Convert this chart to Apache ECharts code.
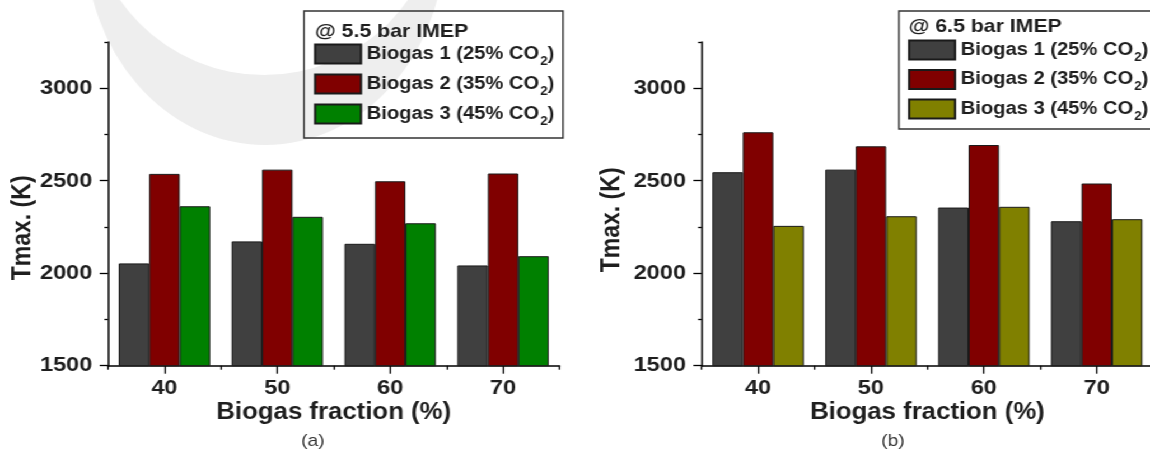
<!DOCTYPE html>
<html>
<head>
<meta charset="utf-8">
<script src="https://cdn.jsdelivr.net/npm/echarts@6/dist/echarts.min.js"></script>
<style>
  html, body { margin: 0; padding: 0; background: #ffffff; overflow: hidden; }
  #stage { position: absolute; left: 0; top: 0; width: 1027px; height: 451px;
           transform: scaleX(1.11977); transform-origin: 0 0; }
  #left  { position: absolute; left: 0; top: 0; width: 518px; height: 451px; }
  #right { position: absolute; left: 518px; top: 0; width: 509px; height: 451px; }
</style>
</head>
<body>
<div id="stage"><div id="left"></div><div id="right"></div></div>
<script>
// Biogas fraction (%) on the x axis
const categories = ['40', '50', '60', '70'];
const seriesNames = ['Biogas 1 (25% CO2)', 'Biogas 2 (35% CO2)', 'Biogas 3 (45% CO2)'];

// Peak in-cylinder temperature Tmax (K) at 5.5 bar IMEP
const biogas1At55 = [2053, 2172, 2159, 2042];
const biogas2At55 = [2537, 2560, 2497, 2539];
const biogas3At55 = [2362, 2305, 2270, 2092];

// Peak in-cylinder temperature Tmax (K) at 6.5 bar IMEP
const biogas1At65 = [2546, 2560, 2355, 2281];
const biogas2At65 = [2762, 2686, 2693, 2485];
const biogas3At65 = [2256, 2308, 2359, 2292];

// Value axis
const yMin = 1500;
const yMax = 3250;
const yMajorTicks = [1500, 2000, 2500, 3000];
const yMinorTicks = [1750, 2250, 2750, 3250];

const FONT = '"Liberation Sans", Arial, sans-serif';
const INK = '#1e1e1e';

function buildOption(cfg) {
  const series = seriesNames.map((name, i) => ({
    type: 'bar',
    name: name,
    xAxisIndex: 0,
    yAxisIndex: 0,
    data: cfg.values[i],
    barGap: '0%',
    barCategoryGap: '19%',
    itemStyle: { color: cfg.colors[i], borderColor: '#1a1a1a', borderWidth: 1 },
    emphasis: { disabled: true }
  }));

  const graphic = [];
  if (cfg.watermark) {
    graphic.push(
      { type: 'circle', silent: true, z: -20, x: 236.7, y: -60, scaleY: 1.2757,
        shape: { cx: 0, cy: 0, r: 160.7 }, style: { fill: '#eeeeee' } },
      { type: 'circle', silent: true, z: -19, x: 235.7, y: -100, scaleY: 1.1168,
        shape: { cx: 0, cy: 0, r: 156.7 }, style: { fill: '#ffffff' } }
    );
  }
  graphic.push(
    { type: 'rect', silent: true, z: 10,
      shape: { x: cfg.box[0], y: cfg.box[1], width: cfg.box[2], height: cfg.box[3] },
      style: { fill: 'none', stroke: '#333333', lineWidth: 1.4 } },
    { type: 'text', silent: true, z: 10, x: cfg.caption[1], y: 441,
      style: { text: cfg.caption[0], fill: '#333333', fontSize: 17, fontFamily: FONT,
               align: 'center', verticalAlign: 'middle' } }
  );

  return {
    animation: false,
    backgroundColor: 'transparent',
    title: {
      text: cfg.condition,
      left: cfg.titlePos[0],
      top: cfg.titlePos[1],
      padding: 0,
      textStyle: { fontFamily: FONT, fontSize: 19, fontWeight: 'bold', color: INK, lineHeight: 21 }
    },
    legend: {
      orient: 'vertical',
      left: cfg.legendPos[0],
      top: cfg.legendPos[1],
      padding: 0,
      itemGap: cfg.legendGap,
      itemWidth: 41,
      itemHeight: 19,
      icon: 'rect',
      selectedMode: false,
      data: seriesNames,
      formatter: name => name.replace('CO2', 'CO{sub|2}'),
      textStyle: {
        fontFamily: FONT, fontSize: 18, fontWeight: 'bold', color: INK, lineHeight: 28,
        rich: {
          sub: { fontFamily: FONT, fontSize: 12, fontWeight: 'bold', color: INK,
                 lineHeight: 28, padding: [15, 0, 0, 1] }
        }
      }
    },
    grid: {
      left: cfg.gridLeft, top: 42, width: 403.2, height: 323.7,
      outerBoundsMode: 'none', containLabel: false
    },
    xAxis: [
      {
        type: 'category',
        data: categories,
        boundaryGap: true,
        name: 'Biogas fraction (%)',
        nameLocation: 'middle',
        nameGap: 35,
        nameMoveOverlap: false,
        nameTextStyle: { fontFamily: FONT, fontSize: 23, fontWeight: 'bold', color: INK },
        axisLine: { show: true, lineStyle: { color: '#000000', width: 1.5 } },
        axisTick: { show: true, alignWithLabel: true, length: 8, lineStyle: { color: '#000000', width: 1.3 } },
        axisLabel: { margin: 12, fontFamily: FONT, fontSize: 21, fontWeight: 'bold', color: INK },
        splitLine: { show: false }
      },
      {
        type: 'category',
        data: categories,
        boundaryGap: true,
        position: 'bottom',
        axisLine: { show: false },
        axisTick: { show: true, length: 4, lineStyle: { color: '#000000', width: 1.3 } },
        axisLabel: { show: false },
        splitLine: { show: false }
      }
    ],
    yAxis: [
      {
        type: 'value',
        min: yMin,
        max: yMax,
        interval: 500,
        position: 'left',
        name: 'Tmax. (K)',
        nameLocation: 'middle',
        nameGap: cfg.yNameGap,
        nameMoveOverlap: false,
        nameTextStyle: { fontFamily: FONT, fontSize: 23, fontWeight: 'bold', color: INK,
                         padding: [0, cfg.yNameShift, 0, 0] },
        axisLine: { show: true, lineStyle: { color: '#000000', width: 1.5 } },
        axisTick: { show: true, length: 7.4, customValues: yMajorTicks,
                    lineStyle: { color: '#000000', width: 1.3 } },
        axisLabel: { margin: 14, customValues: yMajorTicks,
                     formatter: v => String(v),
                     fontFamily: FONT, fontSize: 21, fontWeight: 'bold', color: INK },
        splitLine: { show: false }
      },
      {
        type: 'value',
        min: yMin,
        max: yMax,
        interval: 250,
        position: 'left',
        offset: 0,
        axisLine: { show: false },
        axisTick: { show: true, length: 3.2, customValues: yMinorTicks,
                    lineStyle: { color: '#000000', width: 1.3 } },
        axisLabel: { show: false },
        splitLine: { show: false }
      }
    ],
    series: series,
    graphic: graphic
  };
}

const leftChart = echarts.init(document.getElementById('left'), null, { renderer: 'canvas', width: 518, height: 451 });
leftChart.setOption(buildOption({
  values: [biogas1At55, biogas2At55, biogas3At55],
  colors: ['#404040', '#800000', '#008000'],
  condition: '@ 5.5 bar IMEP',
  titlePos: [281.3, 21.2],
  legendPos: [280.4, 40],
  legendGap: 2,
  box: [271.5, 11, 231.3, 127],
  caption: ['(a)', 279.5],
  gridLeft: 96.45,
  yNameGap: 64.5,
  yNameShift: 48,
  watermark: true
}));

const rightChart = echarts.init(document.getElementById('right'), null, { renderer: 'canvas', width: 509, height: 451 });
rightChart.setOption(buildOption({
  values: [biogas1At65, biogas2At65, biogas3At65],
  colors: ['#404040', '#800000', '#808000'],
  condition: '@ 6.5 bar IMEP',
  titlePos: [293.5, 16.2],
  legendPos: [292.9, 36],
  legendGap: 1.5,
  box: [284.8, 11, 260, 118],
  caption: ['(b)', 279.5],
  gridLeft: 108.6,
  yNameGap: 68.5,
  yNameShift: 32,
  watermark: false
}));
</script>
</body>
</html>
